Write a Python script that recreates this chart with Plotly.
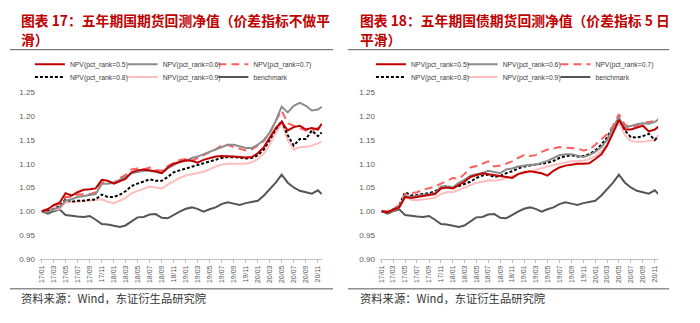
import plotly.graph_objects as go

# ---------------- data ----------------
months = [f"{y}-{m:02d}-01" for y in range(2017, 2021) for m in range(1, 13)][:47]
dates = months + ["2020-11-20"]

benchmark = [1.000, 0.995, 1.000, 1.004, 0.992, 0.990, 0.989, 0.988, 0.990, 0.982,
             0.973, 0.972, 0.970, 0.967, 0.970, 0.978, 0.987, 0.988, 0.993, 0.994,
             0.986, 0.985, 0.993, 0.999, 1.005, 1.008, 1.005, 0.999, 1.004, 1.008,
             1.015, 1.019, 1.016, 1.013, 1.017, 1.019, 1.022, 1.033, 1.045, 1.060,
             1.077, 1.060, 1.050, 1.043, 1.040, 1.037, 1.044, 1.036]

# left panel: spread indicator not smoothed
l_05 = [1.000, 1.004, 1.013, 1.018, 1.038, 1.033, 1.040, 1.045, 1.046, 1.048,
        1.066, 1.064, 1.058, 1.063, 1.068, 1.082, 1.086, 1.088, 1.086, 1.084,
        1.080, 1.092, 1.100, 1.104, 1.107, 1.106, 1.102, 1.108, 1.112, 1.115,
        1.116, 1.116, 1.115, 1.114, 1.113, 1.114, 1.122, 1.135, 1.155, 1.175,
        1.188, 1.170, 1.177, 1.180, 1.172, 1.175, 1.172, 1.184]
l_06 = [1.000, 0.998, 1.005, 1.008, 1.022, 1.025, 1.030, 1.032, 1.033, 1.036,
        1.058, 1.058, 1.060, 1.066, 1.072, 1.080, 1.082, 1.085, 1.085, 1.082,
        1.080, 1.090, 1.097, 1.104, 1.106, 1.112, 1.115, 1.120, 1.125, 1.130,
        1.136, 1.140, 1.140, 1.137, 1.133, 1.133, 1.140, 1.150, 1.165, 1.190,
        1.220, 1.208, 1.222, 1.228, 1.222, 1.212, 1.214, 1.220]
l_07 = [1.000, 1.005, 1.012, 1.015, 1.030, 1.030, 1.035, 1.035, 1.036, 1.040,
        1.060, 1.062, 1.060, 1.070, 1.076, 1.088, 1.090, 1.088, 1.092, 1.087,
        1.085, 1.095, 1.102, 1.108, 1.110, 1.106, 1.112, 1.118, 1.125, 1.130,
        1.138, 1.140, 1.135, 1.132, 1.128, 1.130, 1.138, 1.148, 1.165, 1.190,
        1.212, 1.185, 1.180, 1.175, 1.170, 1.170, 1.175, 1.178]
l_08 = [1.000, 1.000, 1.005, 1.010, 1.025, 1.020, 1.022, 1.022, 1.024, 1.025,
        1.035, 1.030, 1.030, 1.035, 1.042, 1.053, 1.058, 1.062, 1.067, 1.064,
        1.064, 1.072, 1.082, 1.086, 1.090, 1.093, 1.096, 1.100, 1.105, 1.108,
        1.112, 1.114, 1.114, 1.113, 1.111, 1.112, 1.118, 1.130, 1.150, 1.172,
        1.190, 1.160, 1.138, 1.152, 1.152, 1.170, 1.158, 1.166]
l_09 = [1.000, 1.000, 1.003, 1.005, 1.018, 1.020, 1.020, 1.022, 1.022, 1.023,
        1.025, 1.020, 1.017, 1.022, 1.028, 1.038, 1.042, 1.047, 1.052, 1.050,
        1.048, 1.056, 1.064, 1.070, 1.075, 1.078, 1.080, 1.083, 1.088, 1.094,
        1.098, 1.100, 1.100, 1.100, 1.100, 1.103, 1.110, 1.122, 1.140, 1.165,
        1.185, 1.150, 1.130, 1.135, 1.135, 1.138, 1.142, 1.146]

# right panel: spread indicator 5-day smoothed
r_05 = [1.000, 0.998, 1.003, 1.008, 1.030, 1.028, 1.030, 1.032, 1.033, 1.036,
        1.048, 1.050, 1.048, 1.055, 1.062, 1.072, 1.076, 1.080, 1.078, 1.076,
        1.075, 1.072, 1.070, 1.078, 1.082, 1.084, 1.082, 1.080, 1.075, 1.085,
        1.092, 1.096, 1.098, 1.100, 1.100, 1.101, 1.110, 1.120, 1.138, 1.165,
        1.192, 1.172, 1.172, 1.176, 1.180, 1.168, 1.172, 1.178]
r_06 = [1.000, 0.998, 1.004, 1.010, 1.032, 1.030, 1.032, 1.034, 1.035, 1.038,
        1.052, 1.052, 1.050, 1.060, 1.066, 1.075, 1.078, 1.080, 1.085, 1.082,
        1.080, 1.088, 1.090, 1.094, 1.096, 1.098, 1.098, 1.102, 1.106, 1.112,
        1.118, 1.120, 1.120, 1.117, 1.114, 1.118, 1.125, 1.135, 1.150, 1.175,
        1.197, 1.176, 1.180, 1.183, 1.185, 1.184, 1.188, 1.193]
r_07 = [1.000, 1.000, 1.005, 1.012, 1.036, 1.038, 1.040, 1.045, 1.048, 1.052,
        1.058, 1.064, 1.070, 1.068, 1.078, 1.092, 1.095, 1.100, 1.105, 1.094,
        1.096, 1.100, 1.105, 1.112, 1.118, 1.116, 1.118, 1.125, 1.130, 1.132,
        1.135, 1.134, 1.133, 1.132, 1.128, 1.130, 1.140, 1.152, 1.162, 1.180,
        1.204, 1.182, 1.176, 1.180, 1.186, 1.188, 1.190, 1.195]
r_08 = [1.000, 0.998, 1.004, 1.012, 1.040, 1.033, 1.034, 1.036, 1.038, 1.042,
        1.050, 1.053, 1.050, 1.053, 1.058, 1.062, 1.070, 1.075, 1.077, 1.072,
        1.074, 1.080, 1.084, 1.090, 1.094, 1.096, 1.098, 1.100, 1.102, 1.106,
        1.112, 1.116, 1.118, 1.115, 1.116, 1.120, 1.128, 1.140, 1.155, 1.178,
        1.196, 1.170, 1.156, 1.155, 1.158, 1.163, 1.150, 1.158]
r_09 = [1.000, 0.998, 1.002, 1.008, 1.030, 1.024, 1.023, 1.025, 1.026, 1.028,
        1.036, 1.040, 1.040, 1.045, 1.050, 1.055, 1.060, 1.062, 1.065, 1.064,
        1.066, 1.070, 1.074, 1.078, 1.080, 1.084, 1.086, 1.090, 1.094, 1.097,
        1.100, 1.103, 1.105, 1.105, 1.106, 1.110, 1.116, 1.126, 1.140, 1.165,
        1.186, 1.160, 1.148, 1.146, 1.146, 1.148, 1.150, 1.160]

names = ["NPV(pct_rank=0.5)", "NPV(pct_rank=0.6)", "NPV(pct_rank=0.7)",
         "NPV(pct_rank=0.8)", "NPV(pct_rank=0.9)", "benchmark"]
y_ticks = [0.90, 0.95, 1.00, 1.05, 1.10, 1.15, 1.20, 1.25]

titles_left = ["图表 17：五年期国期货回测净值（价差指标不做平", "滑）"]
titles_right = ["图表 18：五年期国债期货回测净值（价差指标 5 日", "平滑）"]
source = "资料来源：Wind，东证衍生品研究院"

# ---------------- styles ----------------
styles = [
    dict(color="#C00000", width=2, dash="solid"),
    dict(color="#8C8C8C", width=2, dash="solid"),
    dict(color="#FF5F5F", width=2, dash="8px,5px"),
    dict(color="#000000", width=2, dash="3px,2px"),
    dict(color="#FFBDBD", width=2, dash="solid"),
    dict(color="#555555", width=2, dash="solid"),
]

fig = go.Figure()
left_series = [l_05, l_06, l_07, l_08, l_09, benchmark]
right_series = [r_05, r_06, r_07, r_08, r_09, benchmark]
draw_order = [5, 4, 3, 2, 1, 0]

# legend item positions (sample start x in px, row y in px)
leg_cols = {0: [38, 131, 222], 1: [380, 472, 565]}
leg_rows = [62, 75]
leg_font = dict(family="Liberation Sans, Arial", size=6.8, color="#404040")

for panel, series, xa, ya in [(0, left_series, "x", "y"), (1, right_series, "x2", "y2")]:
    for i in draw_order:
        lk = "legend" if panel == 0 and i == 0 else f"legend{panel*6 + i + 1}"
        fig.add_trace(go.Scatter(
            x=dates, y=series[i], mode="lines", name=names[i],
            line=styles[i], xaxis=xa, yaxis=ya, legend=lk, hoverinfo="skip",
        ))
    for i in range(6):
        lk = "legend" if panel == 0 and i == 0 else f"legend{panel*6 + i + 1}"
        px = leg_cols[panel][i % 3] - 7
        py = leg_rows[i // 3]
        fig.update_layout(**{lk: dict(orientation="h", x=px/700, y=1-py/323,
                                      xanchor="left", yanchor="middle", font=leg_font,
                                      bgcolor="rgba(0,0,0,0)", itemwidth=30,
                                      indentation=-3)})

xcommon = dict(type="date", tickformat="%y/%m", dtick="M2", tick0="2017-01-01",
               tickangle=-90, showgrid=False, zeroline=False, showline=True,
               linecolor="#BFBFBF", linewidth=1, ticks="outside", ticklen=3,
               tickcolor="#BFBFBF",
               tickfont=dict(family="Liberation Sans, Arial", size=7, color="#595959"))
ycommon = dict(range=[0.90, 1.25], tickvals=y_ticks, tickformat=".2f",
               showgrid=False, zeroline=False, showline=False, ticks="",
               tickfont=dict(family="Liberation Sans, Arial", size=8, color="#595959"),
               ticklabelstandoff=4)

fig.update_layout(
    width=700, height=323, margin=dict(l=0, r=0, t=0, b=0),
    paper_bgcolor="white", plot_bgcolor="white", showlegend=True,
    xaxis=dict(domain=[38/700, 321/700], range=["2016-12-22", "2020-11-22"], anchor="y", **xcommon),
    yaxis=dict(domain=[1-262/323, 1-91/323], anchor="x", **ycommon),
    xaxis2=dict(domain=[379/700, 658/700], range=["2016-12-23", "2020-11-18"], anchor="y2", **xcommon),
    yaxis2=dict(domain=[1-262/323, 1-91/323], anchor="x2", **ycommon),
)

title_font = dict(family="Noto Sans CJK SC", size=13.8, color="#C00000", weight="bold")
src_font = dict(family="Noto Sans CJK SC", size=11.3, color="#333333")
for x0, lines in [(17/700, titles_left), (357/700, titles_right)]:
    fig.add_annotation(text=lines[0], x=x0, y=1-16/323, xref="paper", yref="paper",
                       xanchor="left", yanchor="middle", showarrow=False, font=title_font)
    fig.add_annotation(text=lines[1], x=x0, y=1-36/323, xref="paper", yref="paper",
                       xanchor="left", yanchor="middle", showarrow=False, font=title_font)
    fig.add_annotation(text=source, x=x0, y=1-302/323, xref="paper", yref="paper",
                       xanchor="left", yanchor="middle", showarrow=False, font=src_font)

for x0, x1 in [(8/700, 332/700), (347/700, 669/700)]:
    for yy in [1-47/323, 1-293/323]:
        fig.add_shape(type="line", xref="paper", yref="paper", x0=x0, x1=x1, y0=yy, y1=yy,
                      line=dict(color="#595959", width=1))

fig.write_html("out.html")
